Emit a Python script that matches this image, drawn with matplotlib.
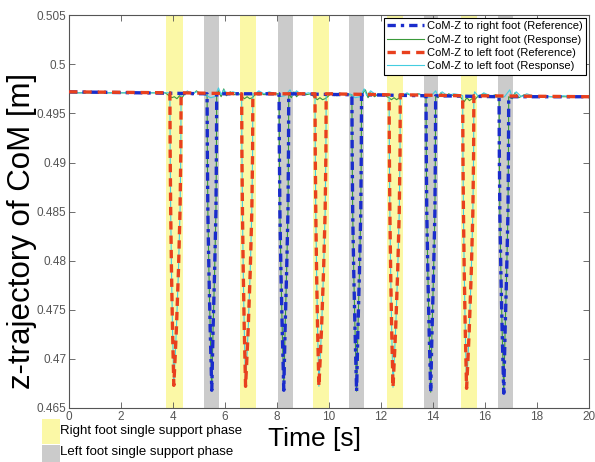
import numpy as np
import matplotlib
matplotlib.use('Agg')
import matplotlib.pyplot as plt
from matplotlib.lines import Line2D
from matplotlib.patches import Rectangle

plt.rcParams['font.family'] = ['Liberation Sans', 'DejaVu Sans']

# single support phases [start, end] in s
right_phase = [(3.73, 4.38), (6.58, 7.19), (9.38, 10.0), (12.23, 12.85), (15.08, 15.7)]
left_phase = [(5.19, 5.77), (8.04, 8.6), (10.77, 11.35), (13.65, 14.2), (16.5, 17.08)]

# dip shape of the reference: time after dip start, drop below the flat level
red_dip_dt = [0, 0.01, 0.03, 0.06, 0.10, 0.15, 0.20, 0.25, 0.33, 0.39, 0.42, 0.43]
red_dip_drop = [0, 0.006, 0.012, 0.018, 0.024, 0.0298, 0.027, 0.024, 0.018, 0.012, 0.006, 0]
blue_dip_dt = [0, 0.01, 0.03, 0.07, 0.12, 0.18, 0.23, 0.29, 0.34, 0.36, 0.37]
blue_dip_drop = [0, 0.006, 0.012, 0.018, 0.024, 0.0302, 0.024, 0.018, 0.012, 0.006, 0]

red_start = [3.88, 6.64, 9.46, 12.31, 15.14]
red_level = [0.4971, 0.4970, 0.4970, 0.4969, 0.4968]
blue_start = [5.31, 8.08, 10.88, 13.73, 16.54]
blue_level = [0.4970, 0.4970, 0.4969, 0.4968, 0.4967]

t_first, z_first = 0.0, 0.4972
t_last, z_last = 20.0, 0.4967

# response wiggles between the dips
green_t = [0, 3.7, 3.85, 3.95, 4.05, 4.15, 4.25, 4.35, 4.45, 4.6, 4.75, 4.9, 5.05, 5.2,
           5.75, 5.85, 5.95, 6.05, 6.2, 6.35, 6.5, 6.65, 6.75, 6.85, 6.95, 7.05, 7.15, 7.3, 7.5, 7.7, 7.9,
           8.55, 8.65, 8.75, 8.9, 9.1, 9.3, 9.45, 9.55, 9.65, 9.75, 9.85, 9.95, 10.1, 10.3, 10.5, 10.7,
           11.4, 11.5, 11.6, 11.75, 11.9, 12.1, 12.3, 12.4, 12.5, 12.6, 12.7, 12.85, 13.0, 13.2, 13.45, 13.65,
           14.2, 14.3, 14.45, 14.6, 14.8, 15.0, 15.1, 15.2, 15.3, 15.4, 15.5, 15.6, 15.75, 15.95, 16.15, 16.4,
           17.05, 17.15, 17.3, 17.5, 17.7, 18.0, 18.5, 19.0, 20]
green_z = [0.4971, 0.4971, 0.4968, 0.4966, 0.4967, 0.4965, 0.4968, 0.4966, 0.4970, 0.4972, 0.4969, 0.4973, 0.4970, 0.4971,
           0.4973, 0.4967, 0.4975, 0.4968, 0.4972, 0.4969, 0.4971, 0.4967, 0.4965, 0.4967, 0.4965, 0.4966, 0.4969, 0.4972, 0.4969, 0.4971, 0.4970,
           0.4966, 0.4972, 0.4967, 0.4971, 0.4969, 0.4970, 0.4966, 0.4964, 0.4966, 0.4964, 0.4965, 0.4967, 0.4971, 0.4968, 0.4970, 0.4969,
           0.4974, 0.4966, 0.4971, 0.4967, 0.4970, 0.4969, 0.4966, 0.4964, 0.4966, 0.4964, 0.4966, 0.4969, 0.4970, 0.4968, 0.4970, 0.4968,
           0.4966, 0.4971, 0.4967, 0.4970, 0.4968, 0.4969, 0.4965, 0.4962, 0.4966, 0.4963, 0.4965, 0.4964, 0.4968, 0.4970, 0.4967, 0.4969,
           0.4965, 0.4971, 0.4966, 0.4969, 0.4967, 0.4968, 0.4967, 0.4967, 0.4967]

cyan_t = [0, 3.8, 4.4, 4.55, 4.7, 4.9, 5.1, 5.3, 5.45, 5.6, 5.75, 5.85, 5.95, 6.1, 6.3, 6.55,
          7.15, 7.3, 7.5, 7.7, 7.95, 8.1, 8.3, 8.5, 8.6, 8.75, 8.95, 9.2, 9.38,
          10.05, 10.2, 10.4, 10.6, 10.8, 11.0, 11.2, 11.35, 11.45, 11.6, 11.8, 12.0, 12.22,
          12.8, 13.0, 13.2, 13.45, 13.7, 13.9, 14.1, 14.2, 14.35, 14.55, 14.8, 15.05,
          15.6, 15.75, 15.95, 16.2, 16.5, 16.75, 16.95, 17.05, 17.2, 17.4, 17.6, 17.85, 18.2, 18.6, 19.0, 19.5, 20]
cyan_z = [0.4971, 0.4971, 0.4969, 0.4973, 0.4970, 0.4972, 0.4970, 0.4968, 0.4966, 0.4967, 0.4976, 0.4969, 0.4974, 0.4970, 0.4972, 0.4970,
          0.4970, 0.4973, 0.4970, 0.4972, 0.4970, 0.4967, 0.4968, 0.4974, 0.4968, 0.4973, 0.4969, 0.4971, 0.4970,
          0.4971, 0.4968, 0.4971, 0.4969, 0.4970, 0.4966, 0.4967, 0.4975, 0.4968, 0.4973, 0.4969, 0.4970, 0.4969,
          0.4968, 0.4971, 0.4968, 0.4970, 0.4966, 0.4967, 0.4973, 0.4967, 0.4972, 0.4968, 0.4970, 0.4969,
          0.4972, 0.4967, 0.4971, 0.4968, 0.4966, 0.4967, 0.4974, 0.4966, 0.4972, 0.4967, 0.4970, 0.4968, 0.4968, 0.4967, 0.4968, 0.4967, 0.4967]


def with_dips(t, z, starts, levels, dts, drops):
    tt = list(t)
    zz = list(z)
    for s, lv in zip(starts, levels):
        for d, dr in zip(dts, drops):
            tt.append(s + d)
            zz.append(lv - dr)
    order = np.argsort(tt, kind='stable')
    return np.array(tt)[order], np.array(zz)[order]


blue_t, blue_z = with_dips([t_first, t_last], [z_first, z_last], blue_start, blue_level, blue_dip_dt, blue_dip_drop)
red_t, red_z = with_dips([t_first, t_last], [z_first, z_last], red_start, red_level, red_dip_dt, red_dip_drop)
grn_t, grn_z = with_dips(green_t, green_z, blue_start, blue_level, blue_dip_dt, blue_dip_drop)
cy_t, cy_z = with_dips(cyan_t, cyan_z, red_start, red_level, red_dip_dt, red_dip_drop)

c_blue = '#1a2ccc'
c_green = '#3a9a3a'
c_red = '#e8401e'
c_cyan = '#44cde0'
c_yellow = '#fbf8a6'
c_gray = '#cbcbcb'

ls_blue = (0, (2.5, 1.5, 1, 1.5))
ls_red = (0, (2.5, 1.8))

fig = plt.figure(figsize=(5.95, 4.62), dpi=100)
ax = fig.add_axes([0.116, 0.117, 0.874, 0.85])

for a, b in right_phase:
    ax.axvspan(a, b, color=c_yellow, lw=0, zorder=0)
for a, b in left_phase:
    ax.axvspan(a, b, color=c_gray, lw=0, zorder=0)

ax.plot(grn_t, grn_z, color=c_green, lw=0.8, zorder=2)
ax.plot(cy_t, cy_z, color=c_cyan, lw=0.8, zorder=2)
ax.plot(blue_t, blue_z, color=c_blue, lw=2.4, ls=ls_blue, zorder=3)
ax.plot(red_t, red_z, color=c_red, lw=2.4, ls=ls_red, zorder=3)

ax.set_xlim(0, 20)
ax.set_ylim(0.465, 0.505)
ax.set_xticks(np.arange(0, 21, 2))
yt = [0.465, 0.47, 0.475, 0.48, 0.485, 0.49, 0.495, 0.5, 0.505]
ax.set_yticks(yt)
ax.set_yticklabels(['0.465', '0.47', '0.475', '0.48', '0.485', '0.49', '0.495', '0.5', '0.505'])
ax.tick_params(direction='in', length=4, width=0.6, colors='#555555', labelsize=8.5,
               top=True, right=True, pad=2)
for sp in ax.spines.values():
    sp.set_color('#555555')
    sp.set_linewidth(0.8)

handles = [Line2D([], [], color=c_blue, lw=2.4, ls=ls_blue),
           Line2D([], [], color=c_green, lw=0.8),
           Line2D([], [], color=c_red, lw=2.4, ls=ls_red),
           Line2D([], [], color=c_cyan, lw=0.8)]
labels = ['CoM-Z to right foot (Reference)', 'CoM-Z to right foot (Response)',
          'CoM-Z to left foot (Reference)', 'CoM-Z to left foot (Response)']
leg = ax.legend(handles, labels, loc='upper right', fontsize=8, fancybox=False,
                framealpha=1, edgecolor='black', borderpad=0.3, labelspacing=0.3,
                handlelength=3.3, handletextpad=0.3, borderaxespad=0.25)
leg.get_frame().set_linewidth(0.8)

fig.text(0.037, 0.5, 'z-trajectory of CoM [m]', rotation=90, ha='center', va='center', fontsize=22.5)
fig.text(0.529, 0.05, 'Time [s]', ha='center', va='center', fontsize=19)

fig.patches.append(Rectangle((42 / 595, 1 - 444 / 462), 18 / 595, 25 / 462, transform=fig.transFigure,
                             color=c_yellow, lw=0))
fig.patches.append(Rectangle((42 / 595, 0.0), 18 / 595, 17 / 462, transform=fig.transFigure,
                             color=c_gray, lw=0))
fig.text(60 / 595, 1 - 431 / 462, 'Right foot single support phase', ha='left', va='center', fontsize=9.5)
fig.text(60 / 595, 1 - 452 / 462, 'Left foot single support phase', ha='left', va='center', fontsize=9.5)

fig.savefig('out.png', dpi=100)
